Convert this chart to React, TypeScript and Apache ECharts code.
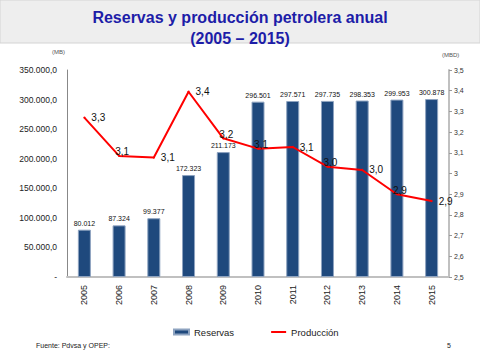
import React, { useEffect, useRef } from "react";
import * as echarts from "echarts";

const years = ["2005", "2006", "2007", "2008", "2009", "2010", "2011", "2012", "2013", "2014", "2015"];
const reservas = [80012, 87324, 99377, 172323, 211173, 296501, 297571, 297735, 298353, 299953, 300878];
const produccion = [3.27, 3.085, 3.077, 3.395, 3.17, 3.12, 3.128, 3.033, 3.017, 2.9, 2.867];
const produccionLabels = ["3,3", "3,1", "3,1", "3,4", "3,2", "3,1", "3,1", "3,0", "3,0", "2,9", "2,9"];
const labelAbove = [false, true, false, false, true, true, false, true, false, true, false];

const fmtThousands = (v: number) => {
  const s = Math.round(v).toString();
  return s.replace(/\B(?=(\d{3})+(?!\d))/g, ".");
};

const FONT = "Liberation Sans, Arial, sans-serif";

export default function App() {
  const ref = useRef<HTMLDivElement>(null);
  useEffect(() => {
    const chart = echarts.init(ref.current!, null, { renderer: "svg" });
    const lineData = produccion.map((v, i) => ({
      value: v,
      label: labelAbove[i]
        ? { position: "top", distance: 0, offset: [3, 2] }
        : { position: "right", distance: 6, offset: [0, 0] },
    }));
    chart.setOption({
      animation: false,
      backgroundColor: "#ffffff",
      graphic: [
        {
          type: "rect",
          shape: { x: 0, y: 0, width: 480, height: 43 },
          style: { fill: "#eeeeee", stroke: "#d4d4d4", lineWidth: 1 },
          z: -1,
        },
        {
          type: "text",
          left: 52,
          top: 49,
          style: { text: "(MB)", fontSize: 6, fill: "#555", fontFamily: FONT },
        },
        {
          type: "text",
          left: 442,
          top: 52,
          style: { text: "(MBD)", fontSize: 6, fill: "#555", fontFamily: FONT },
        },
        {
          type: "text",
          left: 36,
          top: 342,
          style: { text: "Fuente: Pdvsa y OPEP:", fontSize: 7, fill: "#222", fontFamily: FONT },
        },
        {
          type: "text",
          left: 447,
          top: 342,
          style: { text: "5", fontSize: 7, fill: "#222", fontFamily: FONT },
        },
      ],
      title: {
        text: "Reservas y producción petrolera anual\n(2005 – 2015)",
        left: "center",
        top: 2,
        textStyle: {
          fontSize: 16,
          fontWeight: "bold",
          color: "#1d1da8",
          fontFamily: FONT,
          lineHeight: 21,
        },
      },
      legend: {
        top: 322,
        left: 168,
        itemWidth: 15,
        itemHeight: 5,
        itemGap: 36,
        textStyle: { fontSize: 9.5, color: "#222", fontFamily: FONT },
        data: [
          { name: "Reservas", icon: "rect" },
          { name: "Producción", itemStyle: { opacity: 0 }, lineStyle: { width: 2 } },
        ],
      },
      grid: { left: 67, right: 31, top: 70, bottom: 83, containLabel: false },
      xAxis: {
        type: "category",
        data: years,
        axisLine: { lineStyle: { color: "#c0c0c0", width: 2 } },
        axisTick: { show: false },
        axisLabel: { rotate: 90, fontSize: 9, color: "#222", margin: 8, fontFamily: FONT },
      },
      yAxis: [
        {
          type: "value",
          min: 0,
          max: 350000,
          interval: 50000,
          splitLine: { show: false },
          axisLine: { show: true, lineStyle: { color: "#888", width: 1 } },
          axisTick: { show: false },
          axisLabel: {
            fontSize: 8.5,
            color: "#222",
            margin: 10,
            fontFamily: FONT,
            formatter: (v: number) => (v === 0 ? "-" : fmtThousands(v) + ",0"),
          },
        },
        {
          type: "value",
          min: 2.5,
          max: 3.5,
          interval: 0.1,
          position: "right",
          splitLine: { show: false },
          axisLine: { show: true, lineStyle: { color: "#c0c0c0", width: 2 } },
          axisTick: { show: true, length: 3, lineStyle: { color: "#999" } },
          axisLabel: {
            fontSize: 7,
            color: "#333",
            margin: 5,
            fontFamily: FONT,
            formatter: (v: number) => {
              const r = Math.round(v * 10) / 10;
              return Number.isInteger(r) ? String(r) : r.toFixed(1).replace(".", ",");
            },
          },
        },
      ],
      series: [
        {
          name: "Reservas",
          type: "bar",
          data: reservas,
          barWidth: 13,
          itemStyle: { color: "#1f497d", borderColor: "#8ea3c0", borderWidth: 1 },
          label: {
            show: true,
            position: "top",
            distance: 3,
            fontSize: 7,
            color: "#111",
            fontFamily: FONT,
            formatter: (p: any) => fmtThousands(p.value),
          },
        },
        {
          name: "Producción",
          type: "line",
          yAxisIndex: 1,
          data: lineData,
          symbol: "circle",
          symbolSize: 2,
          itemStyle: { color: "#ff0000" },
          lineStyle: { color: "#ff0000", width: 2 },
          label: {
            show: true,
            fontSize: 10,
            color: "#111",
            fontFamily: FONT,
            formatter: (p: any) => produccionLabels[p.dataIndex],
          },
          z: 3,
        },
      ],
    });
    return () => chart.dispose();
  }, []);
  return <div ref={ref} style={{ width: 480, height: 360, position: "absolute", left: 0, top: 0 }} />;
}
